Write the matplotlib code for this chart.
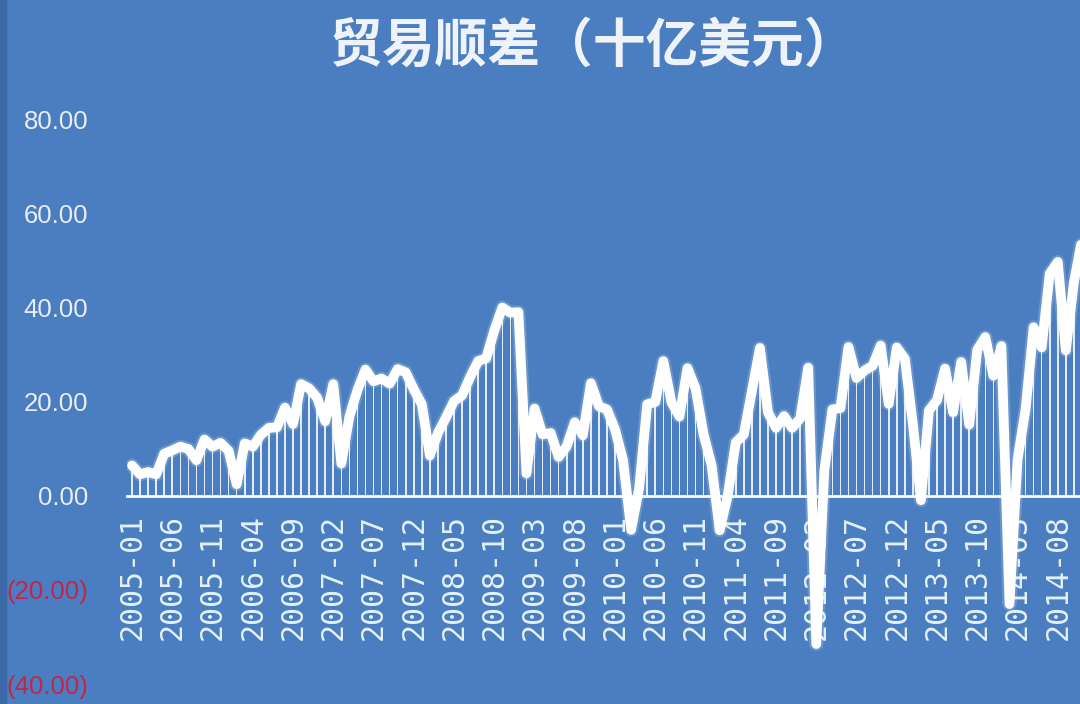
import matplotlib.pyplot as plt
import numpy as np

# monthly trade surplus, billion USD
y2005 = [6.5, 4.6, 5.1, 4.6, 9.0, 9.7, 10.5, 10.0, 7.6, 12.0, 10.5, 11.3]
y2006 = [9.6, 2.5, 11.2, 10.5, 13.0, 14.5, 14.6, 18.8, 15.3, 23.8, 22.9, 20.9]
y2007 = [15.9, 23.8, 6.9, 16.9, 22.5, 26.9, 24.4, 25.0, 23.9, 27.0, 26.3, 22.7]
y2008 = [19.5, 8.6, 13.4, 16.7, 20.2, 21.4, 25.3, 28.7, 29.3, 35.2, 40.1, 39.0]
y2009 = [39.1, 4.8, 18.6, 13.1, 13.4, 8.3, 10.6, 15.7, 12.9, 24.0, 19.1, 18.4]
y2010 = [14.2, 7.6, -7.2, 1.7, 19.5, 20.0, 28.7, 20.0, 16.9, 27.2, 22.9, 13.1]
y2011 = [6.5, -7.3, 0.1, 11.4, 13.1, 22.3, 31.5, 17.8, 14.5, 17.0, 14.5, 16.5]
y2012 = [27.3, -31.5, 5.4, 18.4, 18.7, 31.7, 25.1, 26.7, 27.7, 32.0, 19.6, 31.6]
y2013 = [29.2, 15.3, -0.9, 18.2, 20.4, 27.1, 17.8, 28.5, 15.2, 31.1, 33.8, 25.6]
y2014 = [31.9, -23.0, 7.7, 18.5, 35.9, 31.6, 47.3, 49.8, 31.0, 45.4, 54.5, 49.6]

values = y2005 + y2006 + y2007 + y2008 + y2009 + y2010 + y2011 + y2012 + y2013 + y2014
months = ['%d-%02d' % (yr, m) for yr in range(2005, 2015) for m in range(1, 13)]
yticks = [-40, -20, 0, 20, 40, 60, 80]

bg = '#4a7ec0'
x = np.arange(len(values))

fig = plt.figure(figsize=(10.8, 7.04), dpi=100, facecolor=bg)
fig.patches.append(plt.Rectangle((0, 0), 6/1080, 1, transform=fig.transFigure,
                                 color='#3b6aa6', zorder=0))
ax = fig.add_axes([127.2/1080, 0.0017, 1 - 127.2/1080, 0.8546])
ax.set_facecolor(bg)

ax.bar(x, values, width=0.2, color='white', alpha=0.85, zorder=2)
ax.plot(x, values, color='white', lw=10, alpha=0.18, solid_joinstyle='round',
        solid_capstyle='round', zorder=3)
ax.plot(x, values, color='white', lw=7, solid_joinstyle='round',
        solid_capstyle='round', zorder=4)

ax.set_xlim(-0.6, 117.76)
ax.set_ylim(-44, 84)

for s in ['left', 'right', 'top']:
    ax.spines[s].set_visible(False)
ax.spines['bottom'].set_position(('data', 0))
ax.spines['bottom'].set_color('white')
ax.spines['bottom'].set_linewidth(2)

ax.set_xticks(x[::5])
ax.set_xticklabels(months[::5], rotation=90, family='DejaVu Sans Mono',
                   fontsize=21.5, color='#e2f1f6')
ax.tick_params(axis='x', length=0, pad=13)

ax.set_yticks(yticks)
ax.set_yticklabels(['%.2f' % v if v >= 0 else '(%.2f)' % -v for v in yticks],
                   family='Liberation Sans', fontsize=18.5)
for lab, v in zip(ax.get_yticklabels(), yticks):
    lab.set_color('#e8eef6' if v >= 0 else '#c4234a')
ax.tick_params(axis='y', length=0, pad=28)

fig.text(594/1080, 1 - 46/704, '贸易顺差（十亿美元）', ha='center', va='center',
         family=['Noto Sans CJK SC', 'DejaVu Sans'], fontweight='bold',
         fontsize=38, color='#eef3f9')

plt.savefig('out.png', facecolor=bg)
